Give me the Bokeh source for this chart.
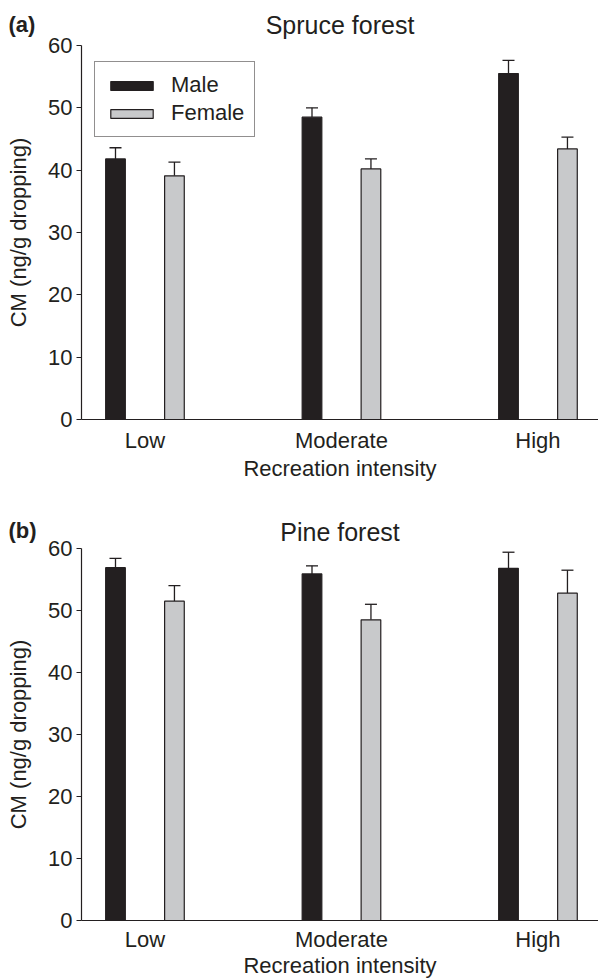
from bokeh.plotting import figure
from bokeh.models import (Range1d, Whisker, ColumnDataSource, Label, Legend,
                          LegendItem, TeeHead, FixedTicker)
from bokeh.layouts import column
from bokeh.embed import file_html
from bokeh.resources import INLINE

# ---- data ----
categories = ["Low", "Moderate", "High"]
spruce_male = [41.8, 48.5, 55.5]
spruce_male_err = [1.8, 1.5, 2.1]
spruce_female = [39.1, 40.2, 43.4]
spruce_female_err = [2.2, 1.6, 1.9]
pine_male = [56.9, 55.9, 56.8]
pine_male_err = [1.5, 1.3, 2.6]
pine_female = [51.5, 48.5, 52.8]
pine_female_err = [2.5, 2.5, 3.7]
y_ticks = [0, 10, 20, 30, 40, 50, 60]

FONT = "Liberation Sans"
INK = "#231f20"
MALE_C = "#231f20"
FEMALE_C = "#c8c9cb"

X0, X1 = -0.323, 2.308   # extent of the drawn x axis (data units)
Y0, Y1 = 0, 60           # extent of the drawn y axis
W = 598
AXIS_X = 81              # pixel position of the y axis line inside the canvas


def panel(tag, title, male, male_err, female, female_err, height,
          y60_px, y0_px, title_mid_px, tag_mid_px, xlabel_mid_px, tick_standoff,
          with_legend):
    ppu_x = (W - AXIS_X) / (X1 - X0)
    ppu_y = (y0_px - y60_px) / (Y1 - Y0)
    xs = X0 - AXIS_X / ppu_x
    ye = Y1 + y60_px / ppu_y
    ys = Y0 - (height - y0_px) / ppu_y

    def py(px):  # canvas pixel row -> data y
        return ye - px / ppu_y

    p = figure(width=W, height=height, output_backend="svg", toolbar_location=None,
               x_range=Range1d(xs, X1), y_range=Range1d(ys, ye),
               min_border_left=0, min_border_right=0,
               min_border_top=0, min_border_bottom=0)
    p.outline_line_color = None
    p.grid.visible = False
    p.background_fill_color = "white"
    p.title.visible = False

    idx = list(range(len(categories)))
    xm = [i - 0.15 for i in idx]
    xf = [i + 0.15 for i in idx]
    sm = ColumnDataSource(dict(x=xm, top=male, upper=[v + e for v, e in zip(male, male_err)]))
    sf = ColumnDataSource(dict(x=xf, top=female, upper=[v + e for v, e in zip(female, female_err)]))

    for src in (sm, sf):
        w = Whisker(base="x", lower="top", upper="upper", source=src, dimension="height",
                    line_color=INK, line_width=1.3, lower_head=None,
                    upper_head=TeeHead(size=12, line_color=INK, line_width=1.3))
        w.level = "underlay"
        p.add_layout(w)

    rm = p.vbar(x="x", top="top", bottom=0, width=0.1, source=sm,
                fill_color=MALE_C, line_color=MALE_C, line_width=1.2)
    rf = p.vbar(x="x", top="top", bottom=0, width=0.1, source=sf,
                fill_color=FEMALE_C, line_color=INK, line_width=1.2)

    # axes, pinned at the data origin
    yax = p.yaxis[0]
    yax.fixed_location = X0
    yax.bounds = (Y0, Y1)
    yax.ticker = FixedTicker(ticks=y_ticks)
    yax.axis_label = "CM (ng/g dropping)"
    xax = p.xaxis[0]
    xax.fixed_location = Y0
    xax.bounds = (X0, X1)
    xax.ticker = FixedTicker(ticks=idx)
    xax.major_label_overrides = {i: c for i, c in zip(idx, categories)}
    for ax in (xax, yax):
        ax.axis_line_color = INK
        ax.axis_line_width = 1.2
        ax.major_tick_line_color = INK
        ax.major_tick_line_width = 1.2
        ax.minor_tick_line_color = None
        ax.major_label_text_font = FONT
        ax.major_label_text_font_size = "22px"
        ax.major_label_text_color = INK
        ax.axis_label_text_font = FONT
        ax.axis_label_text_font_size = "22px"
        ax.axis_label_text_font_style = "normal"
        ax.axis_label_text_color = INK
    yax.major_tick_out = 5
    yax.major_tick_in = 0
    yax.major_label_standoff = 4
    yax.axis_label_standoff = 14
    xax.major_tick_out = 0
    xax.major_tick_in = 0
    xax.major_label_standoff = tick_standoff

    xc = (X0 + X1) / 2
    p.add_layout(Label(x=xc, y=py(xlabel_mid_px), text="Recreation intensity",
                       text_font=FONT, text_font_size="22px", text_color=INK,
                       text_align="center", text_baseline="middle"))
    p.add_layout(Label(x=xc, y=py(title_mid_px), text=title,
                       text_font=FONT, text_font_size="25px", text_color=INK,
                       text_align="center", text_baseline="middle"))
    p.add_layout(Label(x=xs + 8 / ppu_x, y=py(tag_mid_px), text=tag,
                       text_font=FONT, text_font_size="22px", text_font_style="bold",
                       text_color=INK, text_align="left", text_baseline="middle"))

    if with_legend:
        leg = Legend(items=[LegendItem(label="Male", renderers=[rm]),
                            LegendItem(label="Female", renderers=[rf])],
                     location=(94, height - 62 - 75), padding=10, spacing=2,
                     glyph_width=53, glyph_height=11, label_standoff=13,
                     label_text_font=FONT, label_text_font_size="22px",
                     label_text_color=INK, border_line_color=INK,
                     border_line_width=1.2, background_fill_alpha=1)
        p.add_layout(leg)
    return p


HA = 484
pa = panel("(a)", "Spruce forest", spruce_male, spruce_male_err, spruce_female,
           spruce_female_err, height=HA, y60_px=45, y0_px=419,
           title_mid_px=24, tag_mid_px=24, xlabel_mid_px=468, tick_standoff=8,
           with_legend=True)
pb = panel("(b)", "Pine forest", pine_male, pine_male_err, pine_female,
           pine_female_err, height=978 - HA, y60_px=548 - HA, y0_px=920 - HA,
           title_mid_px=531 - HA, tag_mid_px=530 - HA, xlabel_mid_px=965 - HA,
           tick_standoff=6, with_legend=False)

layout = column(pa, pb, spacing=0)
open("out.html", "w").write(file_html(layout, INLINE))
